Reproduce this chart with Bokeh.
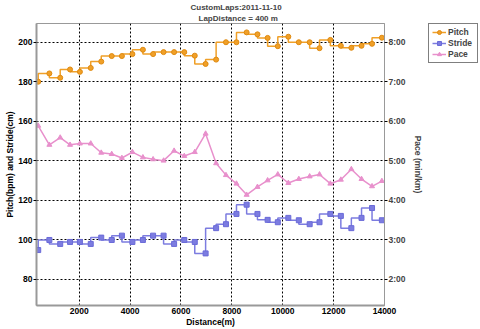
from bokeh.plotting import figure
from bokeh.models import (Range1d, LinearAxis, FixedTicker, CustomJSTickFormatter,
                          Legend, LegendItem, Title)
from bokeh.layouts import row
from bokeh.embed import file_html
from bokeh.resources import INLINE

# ---- data ----
distance = [387, 826, 1252, 1639, 2026, 2452, 2865, 3277, 3677, 4090, 4503, 4903,
            5316, 5729, 6129, 6542, 6968, 7381, 7768, 8181, 8581, 9006, 9406, 9806,
            10219, 10632, 11058, 11445, 11871, 12284, 12697, 13097, 13510, 13897]
pitch = [180, 184.2, 182, 186.2, 185, 187, 190.2, 193, 193, 194, 196.2, 194,
         195, 195, 195, 193.2, 189, 191.2, 200, 200, 205, 204, 202.2, 198,
         202.8, 200, 200, 197, 201.2, 198.2, 197.2, 198.2, 199.2, 202.3]
stride = [94.7, 99.8, 97.8, 98.8, 98.8, 97.8, 101, 99.8, 102, 98.8, 99.8, 102,
          102, 97.8, 99.8, 98.8, 93, 105.8, 107.8, 113, 117.7, 113, 110, 108.8,
          111, 109.8, 107.8, 108.8, 113, 112, 105.8, 111, 116, 109.8]
# pace in seconds per km
pace = [353, 324, 335, 324, 326, 326, 312, 310, 304, 313, 305, 302,
        300, 315, 307, 313, 341, 296, 278, 265, 248, 260, 270, 279,
        266, 272, 276, 279, 265, 271, 287, 272, 261, 269]

x_ticks = [2000, 4000, 6000, 8000, 10000, 12000, 14000]
y_ticks = [80, 100, 120, 140, 160, 180, 200]
pace_ticks = [120, 180, 240, 300, 360, 420, 480]
series_names = ["Pitch", "Stride", "Pace"]

PITCH_C = "#F0A028"
STRIDE_C = "#7C7CE0"
PACE_C = "#E890CC"
FONT = "Liberation Sans"
FS = "8.5px"

p = figure(width=425, height=329, output_backend="svg", toolbar_location=None,
           x_range=Range1d(320, 14000), y_range=Range1d(66.6, 209.5),
           min_border_left=36, min_border_right=0, min_border_top=0, min_border_bottom=0)

p.title = None
t2 = Title(text="LapDistance = 400 m", align="left", offset=162, standoff=1,
           text_font=FONT, text_font_size="8px", text_font_style="bold",
           text_line_height=1.0)
t1 = Title(text="CustomLaps:2011-11-10", align="left", offset=154, standoff=0,
           text_font=FONT, text_font_size="8px", text_font_style="bold",
           text_line_height=1.0)
p.add_layout(t2, "above")
p.add_layout(t1, "above")

p.extra_y_ranges = {"pace": Range1d((66.6 / 20 - 2) * 60, (209.5 / 20 - 2) * 60)}

# axes styling
for ax in p.xaxis + p.yaxis:
    ax.axis_line_color = "#999999"
    ax.axis_line_width = 2
    ax.major_label_text_font = FONT
    ax.major_label_text_font_size = FS
    ax.major_label_text_font_style = "bold"
    ax.major_label_text_color = "black"
    ax.axis_label_text_font = FONT
    ax.axis_label_text_font_size = FS
    ax.axis_label_text_font_style = "bold"
    ax.axis_label_text_color = "black"
    ax.minor_tick_line_color = None
    ax.minor_tick_out = 0
    ax.minor_tick_in = 0
    ax.major_label_standoff = 1
    ax.axis_label_standoff = 0

p.xaxis.ticker = FixedTicker(ticks=x_ticks)
p.xaxis.major_tick_line_color = None
p.xaxis.major_tick_out = 0
p.xaxis.major_tick_in = 0
p.xaxis.major_label_standoff = 2
p.xaxis.axis_label = "Distance(m)"

p.yaxis.ticker = FixedTicker(ticks=y_ticks)
p.yaxis.major_tick_line_color = "black"
p.yaxis.major_tick_out = 3
p.yaxis.major_tick_in = 0
p.yaxis.axis_label = "Pitch(bpm) and Stride(cm)"

pace_axis = LinearAxis(y_range_name="pace", ticker=FixedTicker(ticks=pace_ticks),
                       axis_label="Pace (min/km)")
pace_axis.formatter = CustomJSTickFormatter(code="""
    const m = Math.floor(tick / 60);
    const s = Math.round(tick - m * 60);
    return m + ':' + (s < 10 ? '0' + s : s);
""")
pace_axis.axis_line_color = "#999999"
pace_axis.axis_line_width = 1
pace_axis.major_tick_line_color = "black"
pace_axis.major_tick_out = 3
pace_axis.major_tick_in = 0
pace_axis.minor_tick_line_color = None
pace_axis.minor_tick_out = 0
pace_axis.minor_tick_in = 0
pace_axis.major_label_text_font = FONT
pace_axis.major_label_text_font_size = FS
pace_axis.major_label_text_font_style = "bold"
pace_axis.axis_label_text_font = FONT
pace_axis.axis_label_text_font_size = FS
pace_axis.axis_label_text_font_style = "bold"
pace_axis.major_label_standoff = 1
pace_axis.axis_label_standoff = 4
p.add_layout(pace_axis, "right")

# grid
p.xgrid.ticker = FixedTicker(ticks=x_ticks)
p.ygrid.ticker = FixedTicker(ticks=y_ticks)
for g in (p.xgrid, p.ygrid):
    g.grid_line_color = "black"
    g.grid_line_dash = "2 2"
    g.grid_line_width = 1

p.outline_line_color = "#999999"
p.outline_line_width = 1

# series
p.step(distance, pitch, mode="before", line_color=PITCH_C, line_width=1.5)
p.scatter(distance, pitch, marker="circle", size=5, fill_color=PITCH_C,
          line_color="#E08A10")
p.step(distance, stride, mode="before", line_color=STRIDE_C, line_width=1.5)
p.scatter(distance, stride, marker="square", size=5, fill_color=STRIDE_C,
          line_color="#6A6AD8")
p.line(distance, pace, y_range_name="pace", line_color=PACE_C, line_width=1.5)
p.scatter(distance, pace, y_range_name="pace", marker="triangle", size=5,
          fill_color=PACE_C, line_color=PACE_C)

# legend panel: a narrow figure to the right whose ranges show none of the data,
# so its renderers only supply the legend's glyph styles
pl = figure(width=55, height=329, output_backend="svg", toolbar_location=None,
            x_range=Range1d(0, 1), y_range=Range1d(0, 1),
            x_axis_location=None, y_axis_location=None,
            min_border_left=3, min_border_right=0, min_border_top=22, min_border_bottom=0)
pl.outline_line_color = None
pl.xgrid.visible = False
pl.ygrid.visible = False
series = [(pitch, PITCH_C, "#E08A10", "circle"),
          (stride, STRIDE_C, "#6A6AD8", "square"),
          ([v / 1000 for v in pace], PACE_C, PACE_C, "triangle")]
items = []
for name, (vals, lc, mc, mk) in zip(series_names, series):
    lr = pl.line(distance, vals, line_color=lc, line_width=1.5)
    mr = pl.scatter(distance, vals, marker=mk, size=5, fill_color=lc, line_color=mc)
    items.append(LegendItem(label=name, renderers=[lr, mr]))

legend = Legend(items=items, location="top_left")
legend.label_text_font = FONT
legend.label_text_font_size = FS
legend.label_text_font_style = "bold"
legend.label_height = 10
legend.label_width = 26
legend.label_standoff = 2
legend.glyph_height = 10
legend.glyph_width = 14
legend.spacing = 1
legend.padding = 3
legend.margin = 0
legend.border_line_color = "black"
legend.border_line_width = 1
legend.background_fill_alpha = 1
pl.add_layout(legend, "center")

layout = row(p, pl)
open("out.html", "w").write(file_html(layout, INLINE))
